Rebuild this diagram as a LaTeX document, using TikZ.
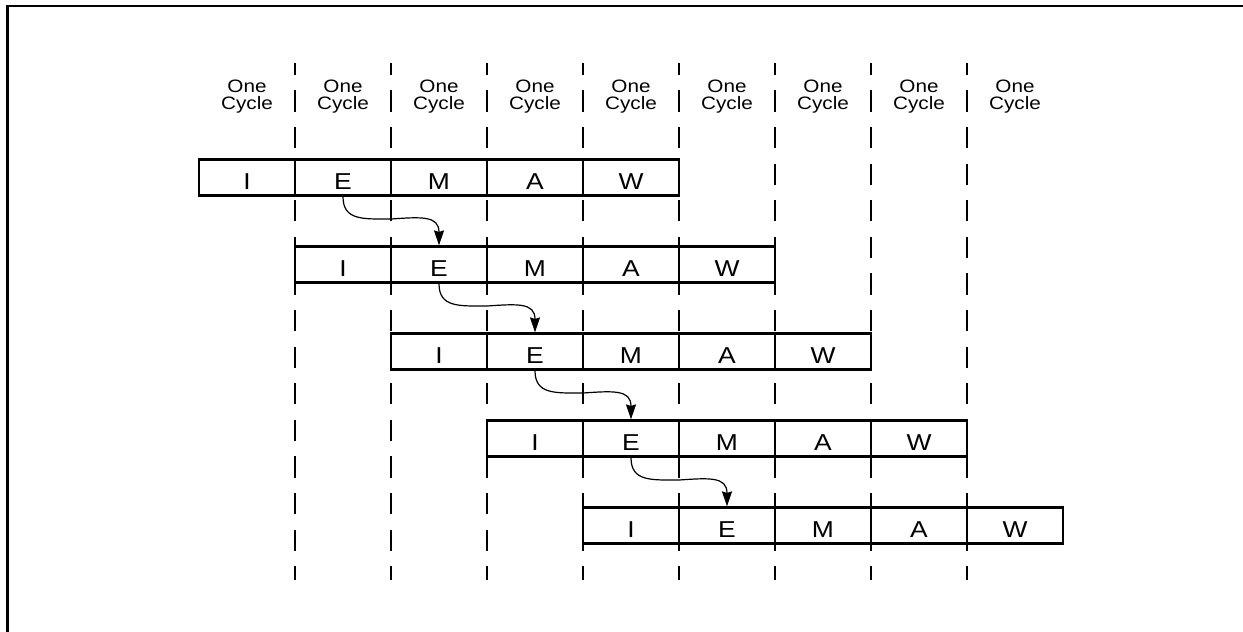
\documentclass[tikz,border=0pt]{standalone}
\usepackage{fontspec}
\setmainfont{Liberation Sans}[FakeStretch=1.15]
\usetikzlibrary{arrows.meta,calc}
\begin{document}
\begin{tikzpicture}[x=1pt,y=-1pt,
  cell/.style={draw, line width=2.2pt, minimum width=96pt, minimum height=36pt,
    inner sep=0pt, text height=23.6pt, text depth=0pt,
    font=\fontsize{23}{23}\selectfont},
  cyc/.style={align=center, inner sep=0pt, font=\fontsize{18}{17.3}\selectfont},
  gridline/.style={line width=2.5pt, dash pattern=on 21.3pt off 15.3pt, dash phase=9.3pt},
  frameline/.style={line width=2.7pt},
  flow/.style={line width=1.2pt, -{Stealth[length=15pt,width=10pt,inset=1.5pt]}}]
\useasboundingbox (0,0) rectangle (1243,632);
% frame
\coordinate (ftr) at (1243,6);
\coordinate (ftl) at (7.3,6);
\coordinate (fbl) at (7.3,632);
\draw[frameline] (ftr) -- (ftl) -- (fbl);
% dashed cycle boundaries
\foreach \i in {0,...,7} {
  \coordinate (gt\i) at ({295+96*\i},63);
  \coordinate (gb\i) at ({295+96*\i},580);
  \draw[gridline] (gt\i) -- (gb\i);
}
% labels
\foreach \j in {1,...,9} {
  \node[cyc] (lab\j) at ({247+96*(\j-1)},96.6) {One\\Cycle};
}
% pipeline rows
\foreach \r in {1,...,5} {
  \foreach \c/\t in {1/I,2/E,3/M,4/A,5/W} {
    \node[cell] (r\r-\c) at ({247+96*(\r-1)+96*(\c-1)},{177.5+87*(\r-1)}) {\t};
  }
}
% forwarding arrows
\foreach \r/\n in {1/2,2/3,3/4,4/5} {
  \coordinate (m\r) at ($(r\r-2.south)!0.5!(r\n-2.north)+(0,-2)$);
  \draw[flow] (r\r-2.south) .. controls +(0,24) and +(-28,0) .. (m\r)
    .. controls +(30,-2) and +(0,-30) .. (r\n-2.north);
}
\end{tikzpicture}
\end{document}
